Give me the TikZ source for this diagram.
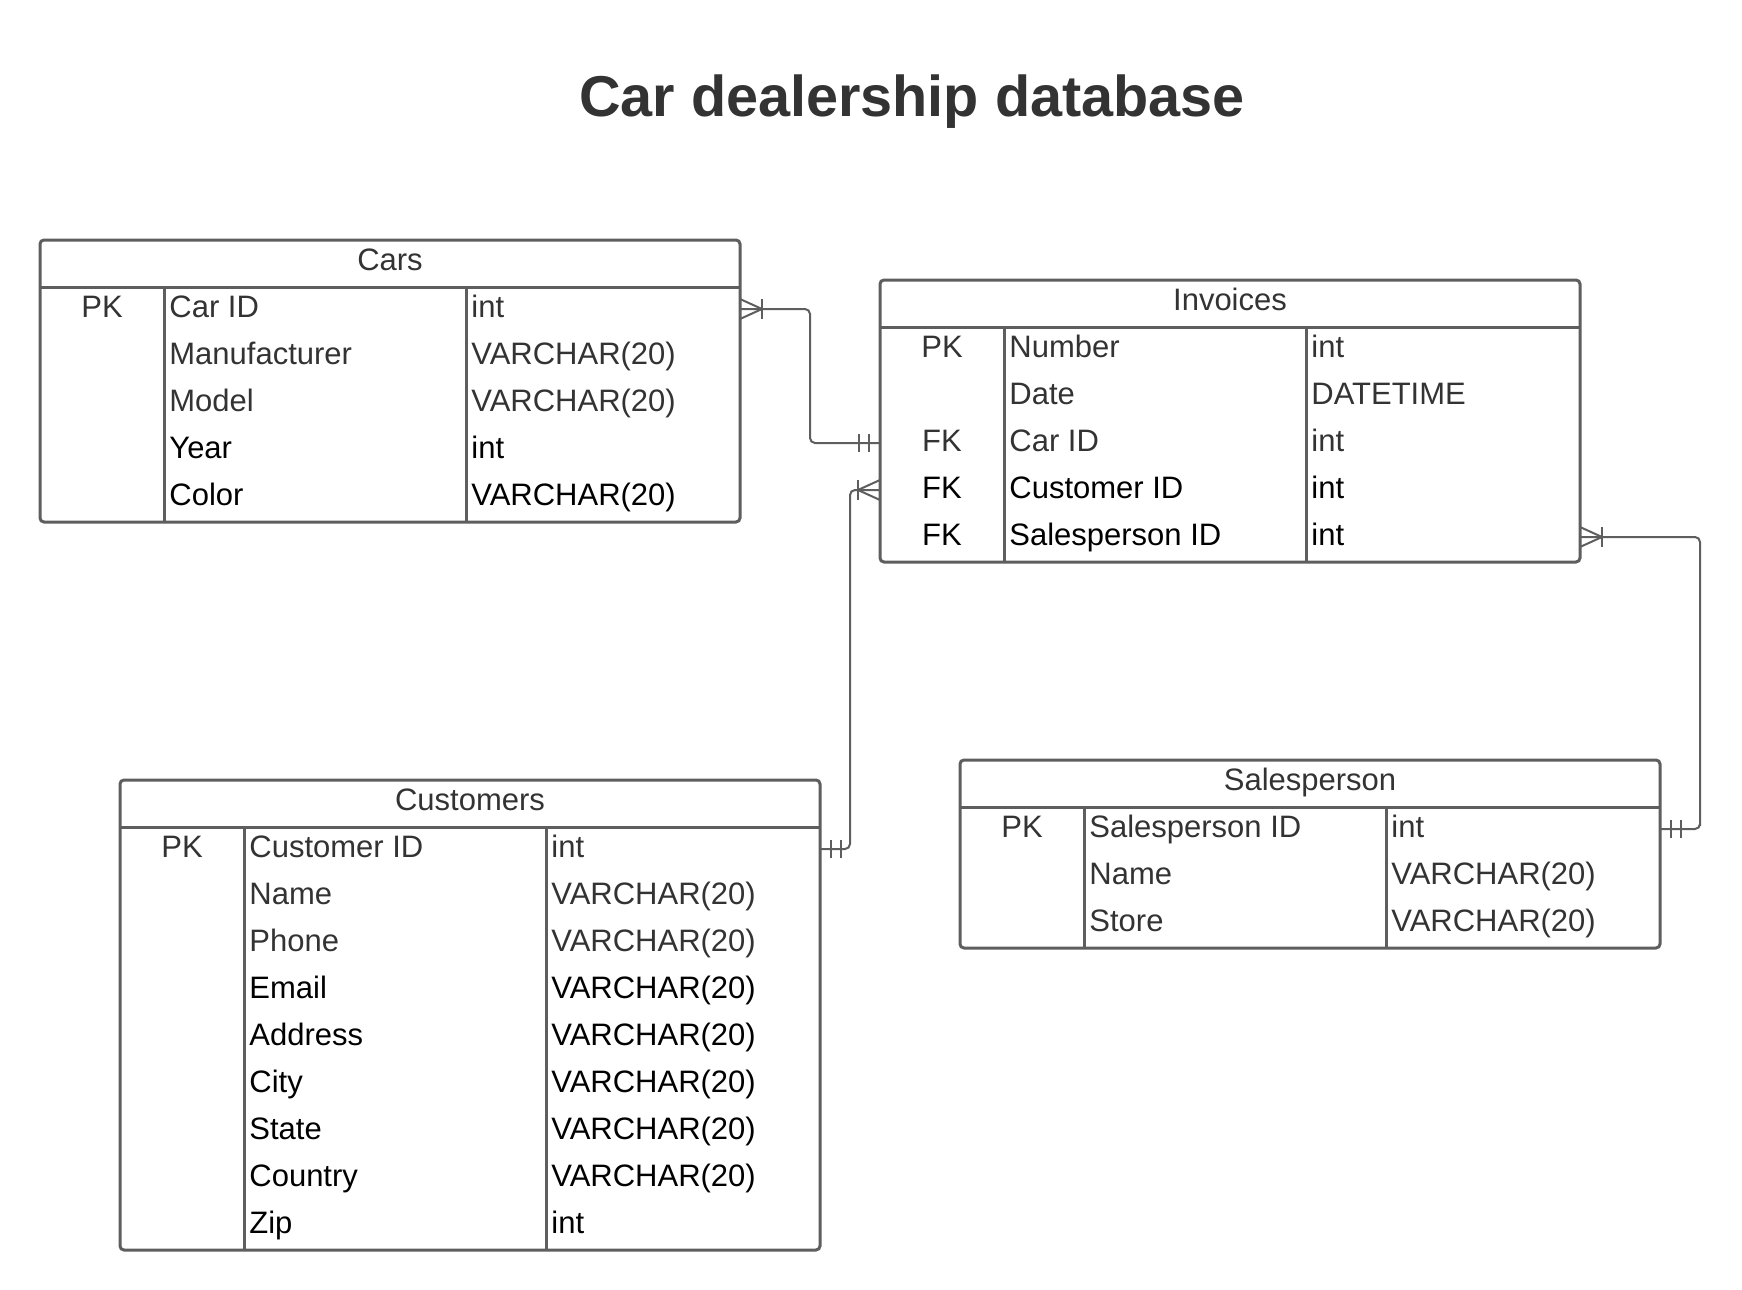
\documentclass[tikz,border=0pt]{standalone}
\usepackage{fontspec}
\setmainfont{Liberation Sans}
\usetikzlibrary{calc}
\definecolor{frame}{HTML}{5E5E5E}
\definecolor{ink}{HTML}{333333}
\tikzset{
  box/.style = {draw = frame, line width = 1.5pt, rounded corners = 2pt},
  rule/.style = {draw = frame, line width = 1.5pt},
  rel/.style = {draw = frame, line width = 1pt},
  celltext/.style = {text = #1, font = \fontsize{15.5}{18}\selectfont, inner sep = 0pt},
  keytext/.style = {celltext = #1, anchor = base},
  nametext/.style = {celltext = #1, anchor = base west},
  headtext/.style = {celltext = ink, anchor = base},
  titletext/.style = {text = ink, font = \fontsize{28.8}{34}\selectfont\bfseries, anchor = base, inner sep = 0pt},
  pics/many/.style = {code = {\draw[rel] (0,-10) -- (22,0) -- (0,10); \draw[rel] (22,-10) -- (22,10);}},
  pics/one/.style = {code = {\draw[rel] (11,-9) -- (11,9); \draw[rel] (21,-9) -- (21,9);}},
}

\begin{document}
\begin{tikzpicture}[x=0.5pt,y=-0.5pt]
  \useasboundingbox (0,0) rectangle (1742,1290);
  \node[titletext] (title) at (912,116) {Car dealership database};
% cars
  \draw[box] (40,240) rectangle (740,522);
  \draw[rule] (40,287) -- (740,287);
  \draw[rule] (164,287) -- (164,522);
  \draw[rule] (466,287) -- (466,522);
  \node[headtext] (cars) at (390,270) {Cars};
  \foreach \k/\n/\t/\c [count=\i] in {PK/Car ID/int/ink, /Manufacturer/VARCHAR(20)/ink,
      /Model/VARCHAR(20)/ink, /Year/int/black, /Color/VARCHAR(20)/black}{
    \node[keytext=\c]  (cars-k\i) at (102,270+47*\i) {\k};
    \node[nametext=\c] (cars-n\i) at (169,270+47*\i) {\n};
    \node[nametext=\c] (cars-t\i) at (471,270+47*\i) {\t};
    \coordinate (cars-w\i) at (40,262+47*\i);
    \coordinate (cars-e\i) at (740,262+47*\i);
  }
% invoices
  \draw[box] (880,280) rectangle (1580,562);
  \draw[rule] (880,327) -- (1580,327);
  \draw[rule] (1004,327) -- (1004,562);
  \draw[rule] (1306,327) -- (1306,562);
  \node[headtext] (inv) at (1230,310) {Invoices};
  \foreach \k/\n/\t/\c [count=\i] in {PK/Number/int/ink, /Date/DATETIME/ink,
      FK/Car ID/int/ink, FK/Customer ID/int/black, FK/Salesperson ID/int/black}{
    \node[keytext=\c]  (inv-k\i) at (942,310+47*\i) {\k};
    \node[nametext=\c] (inv-n\i) at (1009,310+47*\i) {\n};
    \node[nametext=\c] (inv-t\i) at (1311,310+47*\i) {\t};
    \coordinate (inv-w\i) at (880,302+47*\i);
    \coordinate (inv-e\i) at (1580,302+47*\i);
  }
% customers
  \draw[box] (120,780) rectangle (820,1250);
  \draw[rule] (120,827) -- (820,827);
  \draw[rule] (244,827) -- (244,1250);
  \draw[rule] (546,827) -- (546,1250);
  \node[headtext] (cust) at (470,810) {Customers};
  \foreach \k/\n/\t/\c [count=\i] in {PK/Customer ID/int/ink, /Name/VARCHAR(20)/ink,
      /Phone/VARCHAR(20)/ink, /Email/VARCHAR(20)/black, /Address/VARCHAR(20)/black,
      /City/VARCHAR(20)/black, /State/VARCHAR(20)/black, /Country/VARCHAR(20)/black,
      /Zip/int/black}{
    \node[keytext=\c]  (cust-k\i) at (182,810+47*\i) {\k};
    \node[nametext=\c] (cust-n\i) at (249,810+47*\i) {\n};
    \node[nametext=\c] (cust-t\i) at (551,810+47*\i) {\t};
    \coordinate (cust-w\i) at (120,802+47*\i);
    \coordinate (cust-e\i) at (820,802+47*\i);
  }
% salesperson
  \draw[box] (960,760) rectangle (1660,948);
  \draw[rule] (960,807) -- (1660,807);
  \draw[rule] (1084,807) -- (1084,948);
  \draw[rule] (1386,807) -- (1386,948);
  \node[headtext] (sales) at (1310,790) {Salesperson};
  \foreach \k/\n/\t/\c [count=\i] in {PK/Salesperson ID/int/ink, /Name/VARCHAR(20)/ink,
      /Store/VARCHAR(20)/ink}{
    \node[keytext=\c]  (sales-k\i) at (1022,790+47*\i) {\k};
    \node[nametext=\c] (sales-n\i) at (1089,790+47*\i) {\n};
    \node[nametext=\c] (sales-t\i) at (1391,790+47*\i) {\t};
    \coordinate (sales-w\i) at (960,782+47*\i);
    \coordinate (sales-e\i) at (1660,782+47*\i);
  }
% relations
  \draw[rel, rounded corners=2.5pt] (cars-e1) -| ($(cars-e1)!.5!(inv-w3)$) |- (inv-w3);
  \pic at (cars-e1) {many};
  \pic[rotate=180] at (inv-w3) {one};
  \draw[rel, rounded corners=2.5pt] (inv-w4) -| ($(inv-w4)!.5!(cust-e1)$) |- (cust-e1);
  \pic[rotate=180] at (inv-w4) {many};
  \pic at (cust-e1) {one};
  \draw[rel, rounded corners=2.5pt] (inv-e5) -| ($(sales-e1)+(40,0)$) |- (sales-e1);
  \pic at (inv-e5) {many};
  \pic at (sales-e1) {one};
\end{tikzpicture}
\end{document}
